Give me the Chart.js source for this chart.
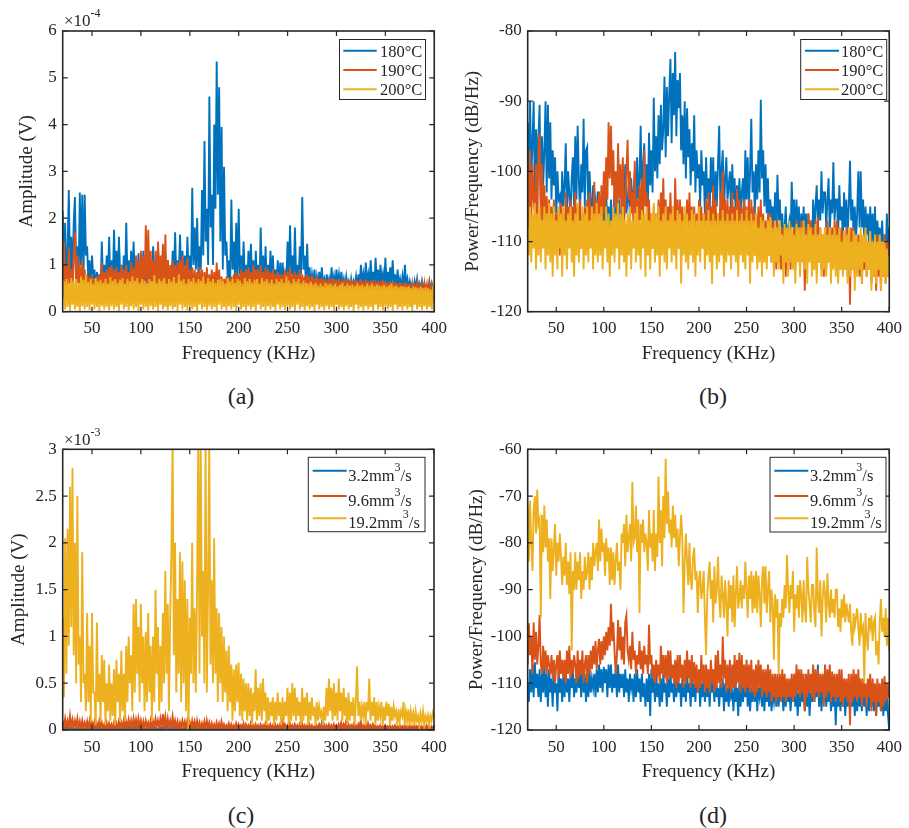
<!DOCTYPE html>
<html><head><meta charset="utf-8">
<script src="https://cdn.jsdelivr.net/npm/chart.js@4.4.1/dist/chart.umd.min.js"></script>
<style>
body{margin:0;background:#fff;}
#wrap{position:relative;width:909px;height:828px;background:#fff;overflow:hidden;font-family:"Liberation Serif","Times New Roman",serif;}
#wrap canvas{position:absolute;}
.sub{position:absolute;font-size:24px;color:#262626;transform:translate(-50%,-50%);line-height:1;white-space:nowrap;}
</style></head><body>
<div id="wrap">
<canvas id="ca" width="454" height="380" style="left:0;top:0"></canvas>
<canvas id="cb" width="455" height="380" style="left:454px;top:0"></canvas>
<canvas id="cc" width="454" height="390" style="left:0;top:410px"></canvas>
<canvas id="cd" width="455" height="390" style="left:454px;top:410px"></canvas>
<div class="sub" style="left:241px;top:396px">(a)</div>
<div class="sub" style="left:713px;top:396px">(b)</div>
<div class="sub" style="left:241px;top:815px">(c)</div>
<div class="sub" style="left:713px;top:815px">(d)</div>
</div>
<script>
// ---------------- DATA ----------------
const freqKHz = [
20,21.25,22.5,23.75,25,26.25,27.5,28.75,30,31.25,
32.5,33.75,35,36.25,37.5,38.75,40,41.25,42.5,43.75,
45,46.25,47.5,48.75,50,51.25,52.5,53.75,55,56.25,
57.5,58.75,60,61.25,62.5,63.75,65,66.25,67.5,68.75,
70,71.25,72.5,73.75,75,76.25,77.5,78.75,80,81.25,
82.5,83.75,85,86.25,87.5,88.75,90,91.25,92.5,93.75,
95,96.25,97.5,98.75,100,101.25,102.5,103.75,105,106.25,
107.5,108.75,110,111.25,112.5,113.75,115,116.25,117.5,118.75,
120,121.25,122.5,123.75,125,126.25,127.5,128.75,130,131.25,
132.5,133.75,135,136.25,137.5,138.75,140,141.25,142.5,143.75,
145,146.25,147.5,148.75,150,151.25,152.5,153.75,155,156.25,
157.5,158.75,160,161.25,162.5,163.75,165,166.25,167.5,168.75,
170,171.25,172.5,173.75,175,176.25,177.5,178.75,180,181.25,
182.5,183.75,185,186.25,187.5,188.75,190,191.25,192.5,193.75,
195,196.25,197.5,198.75,200,201.25,202.5,203.75,205,206.25,
207.5,208.75,210,211.25,212.5,213.75,215,216.25,217.5,218.75,
220,221.25,222.5,223.75,225,226.25,227.5,228.75,230,231.25,
232.5,233.75,235,236.25,237.5,238.75,240,241.25,242.5,243.75,
245,246.25,247.5,248.75,250,251.25,252.5,253.75,255,256.25,
257.5,258.75,260,261.25,262.5,263.75,265,266.25,267.5,268.75,
270,271.25,272.5,273.75,275,276.25,277.5,278.75,280,281.25,
282.5,283.75,285,286.25,287.5,288.75,290,291.25,292.5,293.75,
295,296.25,297.5,298.75,300,301.25,302.5,303.75,305,306.25,
307.5,308.75,310,311.25,312.5,313.75,315,316.25,317.5,318.75,
320,321.25,322.5,323.75,325,326.25,327.5,328.75,330,331.25,
332.5,333.75,335,336.25,337.5,338.75,340,341.25,342.5,343.75,
345,346.25,347.5,348.75,350,351.25,352.5,353.75,355,356.25,
357.5,358.75,360,361.25,362.5,363.75,365,366.25,367.5,368.75,
370,371.25,372.5,373.75,375,376.25,377.5,378.75,380,381.25,
382.5,383.75,385,386.25,387.5,388.75,390,391.25,392.5,393.75,
395,396.25,397.5,398.75,400];

const xTicks = [50,100,150,200,250,300,350,400];
const yTicksA = [0,1,2,3,4,5,6];
const yTicksB = [-120,-110,-100,-90,-80];
const yTicksC = [0,0.5,1,1.5,2,2.5,3];
const yTicksD = [-120,-110,-100,-90,-80,-70,-60];

const legendTemp = ['180°C','190°C','200°C'];
const legendRate = [['3.2mm','3','/s'],['9.6mm','3','/s'],['19.2mm','3','/s']];

// (a) amplitude, units of 1e-4 V
const ampA180 = [
2.15,0.7,1.9,0.5,1.3,2.6,0.8,1.6,0.6,1.9,
2.45,0.9,1.4,0.6,2.55,1.0,2.5,0.7,2.5,1.2,
1.4,0.6,1.1,0.5,1.2,0.7,0.9,0.4,0.85,0.5,
0.8,0.45,1.5,0.6,1.0,0.5,1.2,0.7,1.6,0.5,
1.1,0.6,1.75,0.7,1.3,0.5,1.6,0.8,1.0,0.5,
1.2,0.6,1.9,0.7,1.1,0.5,1.3,0.6,1.5,0.7,
1.0,0.5,1.25,0.6,0.9,0.7,1.3,0.5,1.1,0.6,
1.2,0.5,1.0,0.7,1.4,0.6,1.1,0.5,1.4,0.7,
1.0,0.6,1.35,0.5,1.2,0.7,1.1,0.5,0.9,0.6,
1.3,0.7,1.7,0.6,1.1,0.8,1.65,0.6,1.3,0.7,
1.2,0.6,1.6,0.8,1.2,0.7,2.65,1.0,1.8,0.9,
2.0,0.8,1.4,0.9,2.6,1.2,3.65,1.5,2.2,1.0,
4.6,1.8,2.5,1.0,4.0,2.2,5.35,2.5,4.8,1.5,
3.95,0.9,3.1,1.2,1.5,0.7,1.1,0.6,2.4,0.9,
1.5,0.7,1.9,0.6,2.2,0.8,1.2,0.6,1.5,0.7,
1.0,0.5,1.3,0.7,1.45,0.6,1.1,0.5,1.3,0.6,
1.0,0.5,1.8,0.7,1.2,0.6,1.4,0.5,1.0,0.6,
1.3,0.7,1.2,0.5,0.9,0.6,1.1,0.5,1.05,0.6,
1.05,0.5,0.8,0.6,1.5,0.7,1.85,0.8,1.2,0.6,
1.8,0.7,1.0,0.6,1.4,0.8,2.45,0.9,1.2,0.6,
1.45,0.6,0.95,0.5,0.8,0.6,0.9,0.5,0.75,0.55,
0.85,0.5,0.95,0.6,0.7,0.5,0.8,0.55,0.7,0.5,
0.95,0.55,0.75,0.5,0.9,0.6,0.8,0.5,0.85,0.55,
0.7,0.5,0.75,0.55,0.65,0.5,0.7,0.5,0.65,0.55,
0.75,0.5,0.8,0.55,1.0,0.6,0.8,0.5,1.05,0.6,
0.8,0.55,1.1,0.6,0.85,0.5,1.15,0.6,0.9,0.55,
1.0,0.6,0.8,0.5,1.15,0.6,0.85,0.55,0.95,0.6,
1.1,0.55,0.8,0.5,0.9,0.55,0.7,0.5,0.75,0.5,
1.0,0.55,0.7,0.5,0.65,0.5,0.6,0.45,0.65,0.5,
0.7,0.5,0.6,0.45,0.65,0.5,0.6,0.45,0.55,0.5,
0.65,0.45,0.6,0.5,0.55];
const ampA190 = [
0.6,1.5,0.4,1.0,0.5,1.35,0.6,0.9,0.4,1.2,
1.7,0.5,1.2,0.6,1.0,0.4,1.1,0.5,0.9,0.4,
0.8,0.3,0.75,0.4,0.8,0.3,0.7,0.4,0.75,0.3,
0.8,0.4,1.05,0.3,0.85,0.4,0.9,0.3,0.95,0.4,
1.0,0.3,0.9,0.4,0.95,0.3,0.85,0.4,1.0,0.3,
0.9,0.4,1.0,0.3,0.85,0.4,1.05,0.3,0.95,0.4,
1.2,0.4,1.1,0.5,1.3,0.4,1.2,0.5,1.85,0.6,
1.75,0.5,1.3,0.4,1.1,0.5,1.3,0.4,1.5,0.5,
1.2,0.4,1.45,0.5,1.65,0.4,1.1,0.5,1.0,0.4,
1.1,0.4,1.0,0.5,1.05,0.4,1.1,0.5,1.2,0.4,
1.0,0.4,1.15,0.5,0.9,0.4,0.95,0.3,0.9,0.4,
0.85,0.3,0.95,0.4,0.9,0.3,0.85,0.4,0.95,0.3,
0.8,0.4,0.9,0.3,0.85,0.4,1.05,0.3,0.9,0.4,
0.75,0.3,0.7,0.4,0.75,0.3,0.7,0.4,0.75,0.3,
0.8,0.4,0.85,0.3,0.8,0.4,0.9,0.3,0.85,0.4,
0.9,0.3,0.95,0.4,0.85,0.3,1.0,0.4,0.9,0.3,
0.9,0.4,1.0,0.3,0.85,0.4,0.95,0.3,0.9,0.4,
0.85,0.3,0.9,0.4,0.8,0.3,0.85,0.4,0.8,0.3,
0.8,0.4,0.9,0.3,0.85,0.4,0.95,0.3,0.8,0.4,
0.85,0.3,0.8,0.4,0.9,0.3,0.8,0.4,0.75,0.3,
0.8,0.4,0.75,0.3,0.78,0.4,0.72,0.3,0.75,0.35,
0.7,0.3,0.72,0.35,0.7,0.3,0.68,0.35,0.7,0.3,
0.72,0.35,0.7,0.3,0.68,0.35,0.7,0.3,0.66,0.35,
0.7,0.3,0.68,0.35,0.66,0.3,0.7,0.35,0.65,0.3,
0.68,0.35,0.66,0.3,0.7,0.35,0.65,0.3,0.68,0.35,
0.66,0.3,0.65,0.35,0.68,0.3,0.64,0.35,0.66,0.3,
0.65,0.35,0.68,0.3,0.64,0.35,0.62,0.3,0.65,0.35,
0.62,0.3,0.64,0.35,0.6,0.3,0.62,0.35,0.6,0.3,
0.62,0.35,0.6,0.3,0.6,0.35,0.58,0.3,0.6,0.35,
0.58,0.3,0.6,0.35,0.57,0.3,0.58,0.35,0.56,0.3,
0.58,0.35,0.55,0.3,0.55];
const ampA200 = [
0.3,0.65,0.05,0.7,0.1,0.6,0.02,0.72,0.15,0.66,
0.05,0.7,0.1,0.62,0.02,0.75,0.12,0.68,0.05,0.8,
0.1,0.64,0.03,0.7,0.15,0.6,0.05,0.72,0.1,0.65,
0.02,0.68,0.12,0.62,0.05,0.7,0.1,0.6,0.03,0.74,
0.12,0.66,0.05,0.7,0.1,0.62,0.02,0.68,0.15,0.72,
0.05,0.6,0.1,0.7,0.03,0.65,0.12,0.75,0.05,0.66,
0.1,0.72,0.02,0.62,0.15,0.7,0.05,0.66,0.1,0.6,
0.03,0.7,0.12,0.65,0.05,0.78,0.1,0.62,0.02,0.7,
0.15,0.66,0.05,0.72,0.1,0.6,0.03,0.7,0.12,0.65,
0.05,0.74,0.1,0.62,0.02,0.8,0.15,0.66,0.05,0.7,
0.1,0.6,0.03,0.7,0.12,0.65,0.05,0.72,0.1,0.62,
0.02,0.7,0.15,0.66,0.05,0.75,0.1,0.6,0.03,0.72,
0.12,0.65,0.05,0.7,0.1,0.62,0.02,0.68,0.15,0.7,
0.05,0.66,0.1,0.6,0.03,0.72,0.12,0.65,0.05,0.7,
0.1,0.62,0.02,0.7,0.15,0.66,0.05,0.6,0.1,0.72,
0.03,0.65,0.12,0.7,0.05,0.62,0.1,0.68,0.02,0.7,
0.15,0.6,0.05,0.72,0.1,0.65,0.03,0.7,0.12,0.62,
0.05,0.68,0.1,0.6,0.02,0.7,0.15,0.64,0.05,0.7,
0.1,0.62,0.03,0.75,0.12,0.66,0.05,0.6,0.1,0.7,
0.02,0.64,0.15,0.7,0.05,0.6,0.1,0.66,0.03,0.62,
0.12,0.6,0.05,0.64,0.1,0.58,0.02,0.62,0.15,0.56,
0.05,0.6,0.1,0.55,0.03,0.62,0.12,0.58,0.05,0.6,
0.1,0.56,0.02,0.6,0.15,0.55,0.05,0.58,0.1,0.62,
0.03,0.55,0.12,0.6,0.05,0.56,0.1,0.58,0.02,0.55,
0.15,0.6,0.05,0.56,0.1,0.58,0.03,0.55,0.12,0.6,
0.05,0.56,0.1,0.6,0.02,0.55,0.15,0.58,0.05,0.56,
0.1,0.55,0.03,0.58,0.12,0.54,0.05,0.56,0.1,0.6,
0.02,0.54,0.15,0.56,0.05,0.52,0.1,0.55,0.03,0.54,
0.12,0.52,0.05,0.55,0.1,0.5,0.02,0.54,0.15,0.52,
0.05,0.5,0.1,0.53,0.03,0.5,0.12,0.52,0.05,0.5,
0.1,0.48,0.05,0.5,0.45];

// (b) power/frequency, dB/Hz
const psdB180 = [
-93,-104,-90,-101,-96,-90,-103,-94,-100,-95,
-90.5,-104,-95,-102,-97,-90,-103,-90.5,-101,-93,
-104,-97,-102,-98,-106,-100,-104,-103.5,-107,-100,
-105,-102,-96,-106,-100,-103,-107,-101,-98,-105,
-95,-104,-93.5,-101,-106,-99,-103,-92.5,-105,-97,
-96.5,-106,-100,-104,-107,-102,-105,-104,-108,-103,
-103,-108,-105,-104.5,-109,-106,-103,-108,-105,-110,
-104,-109,-106,-103,-110,-105,-108,-104,-109,-106,
-103,-107,-99,-106,-104,-102,-107,-101,-105,-103,
-100,-106,-98,-104,-101,-93.5,-105,-99,-96,-104,
-99,-105,-94.5,-102,-97,-103,-89.5,-100,-95,-101,
-92,-99,-90.5,-97,-94,-86.5,-98,-88,-95,-89,
-84,-96,-86,-92,-83,-95,-87,-91,-86,-97,
-92,-99,-90,-101,-91,-98,-94,-102,-96,-100,
-92,-103,-97,-101,-99,-105,-97,-102,-100,-106,
-98,-104,-101,-106,-98,-103,-98,-107,-100,-105,
-99,-93.5,-104,-100,-97,-106,-101,-98,-104,-102,
-100,-106,-99,-104,-101,-107,-102,-105,-101,-106,
-103,-101,-107,-97,-104,-98,-105,-100,-92.5,-103,
-100,-106,-99,-104,-97,-103,-89.8,-101,-97,-105,
-99,-106,-101,-108,-104,-107,-105,-109,-103,-108,
-100.5,-107,-104,-109,-106,-110,-108,-105,-111,-108,
-107,-110,-101.5,-108,-104,-110,-104,-109,-105,-111,
-106,-110,-105,-109,-106,-111,-106,-110,-107,-112,
-104,-109,-105,-102,-108,-104,-107,-100,-106,-103,
-103,-108,-104,-101,-109,-104,-106,-98.7,-107,-104,
-104,-109,-102,-107,-105,-110,-103,-108,-104,-109,
-105,-98.5,-107,-104,-109,-105,-110,-106,-100,-108,
-100,-108,-104,-110,-105,-109,-106,-111,-105,-110,
-106,-111,-105,-112,-107,-110,-108,-112,-107,-111,
-109,-113,-106,-111,-108];
const psdB190 = [
-100,-108,-97,-107,-99,-104,-106,-99,-109,-97,
-94.5,-107,-99,-109,-102,-108,-103.5,-110,-104,-109,
-105,-110,-104,-111,-106,-109,-105,-112,-104.5,-110,
-106,-111,-103,-109,-105,-110,-104,-111,-105,-109,
-103,-110,-105,-109,-104,-111,-106,-110,-105,-109,
-104,-110,-103,-108,-105,-110,-101.5,-109,-104,-108,
-103,-109,-102,-107,-100,-106,-98,-104,-93,-101,
-93.5,-102,-97,-105,-100,-106,-96,-104,-99,-106,
-98,-107,-105,-100,-95.5,-104,-100,-106,-103,-108,
-98.5,-106,-104,-109,-102,-107,-101,-108,-97,-105,
-103,-109,-104,-110,-106,-111,-105,-109,-106,-110,
-104,-110,-103,-108,-101,-109,-104,-110,-105,-109,
-103,-109,-105,-110,-101,-108,-104,-111,-104,-110,
-105,-111,-106,-110,-104,-109,-103,-110,-105,-111,
-105,-110,-106,-111,-104,-109,-105,-111,-106,-110,
-104,-109,-103,-110,-105,-108,-102,-110,-104,-111,
-106,-111,-103,-109,-100,-108,-104,-110,-104,-111,
-105,-110,-103,-109,-105,-111,-102.5,-109,-104,-111,
-105,-112,-104,-110,-105,-111,-104,-112,-104,-110,
-105,-112,-106,-111,-105,-112,-104,-111,-106,-112,
-107,-113,-106,-112,-106,-113,-107,-112,-108,-114,
-107,-113,-107.5,-114,-108,-113,-109,-115,-108,-113,
-108,-114,-109,-113,-108,-114,-107,-112,-108,-114,
-107,-112,-109,-117,-108,-113,-106,-112,-107,-113,
-108,-114,-107,-113,-106.5,-113,-108,-114,-109,-115,
-108,-114,-107,-113,-108,-114,-108,-113,-107,-112,
-107,-115,-108,-114,-108,-113,-109,-114,-108,-115,
-109,-119,-108,-114,-108,-115,-110,-114,-109,-115,
-109,-116,-110,-114,-109,-115,-110,-114,-109,-116,
-110,-115,-110,-117,-109,-115,-110,-117,-110,-115,
-109,-116,-110,-115,-110];
const psdB200 = [
-108,-112,-105,-113,-106,-111,-104.5,-114,-106,-112,
-105,-113,-107,-111,-105,-114,-106,-112,-104.5,-113,
-106,-115,-105,-112,-107,-114,-105,-111,-106,-115,
-105,-112,-107,-114,-106,-111,-105,-113,-107,-115,
-106,-112,-104.5,-113,-107,-111,-105,-114,-106,-112,
-105,-113,-107,-111,-105,-114,-106,-112,-104.5,-113,
-106,-112,-105,-114,-107,-111,-105,-113,-106,-115,
-107,-112,-105,-113,-106,-111,-104.5,-114,-106,-112,
-105,-113,-107,-115,-106,-112,-105,-114,-107,-111,
-106,-113,-105,-112,-107,-114,-105.5,-111,-106,-115,
-105,-112,-107,-114,-106,-111,-104.5,-113,-106,-112,
-105,-115,-107,-112,-106,-113,-105,-114,-107,-111,
-106,-113,-105,-112,-107,-114,-105.5,-111,-106,-116,
-107,-112,-105,-113,-106,-114,-107,-112,-105.5,-113,
-106,-115,-107,-112,-105,-113,-107,-111,-106,-114,
-107,-112,-105.5,-113,-107,-116,-106,-112,-107,-114,
-106,-113,-107,-112,-105.5,-115,-107,-113,-106,-112,
-107,-114,-106,-112,-107,-113,-105.5,-115,-107,-112,
-106,-113,-107,-114,-105.5,-112,-107,-116,-106,-113,
-107,-112,-106,-114,-108,-113,-106.5,-115,-107,-113,
-108,-114,-107,-112,-106.5,-113,-108,-115,-107,-113,
-108,-114,-107,-112,-109,-116,-107.5,-113,-108,-115,
-107,-113,-108,-114,-109,-116,-107.5,-113,-108,-115,
-108,-113,-107,-114,-109,-116,-107.5,-113,-108,-115,
-109,-114,-107.5,-116,-109,-113,-108,-115,-109,-114,
-108,-115,-109,-113,-108,-116,-109,-114,-108,-115,
-109,-116,-108,-114,-110,-115,-108.5,-114,-109,-116,
-108,-115,-110,-114,-108.5,-117,-109,-115,-110,-114,
-108,-116,-109,-113,-108,-115,-110,-114,-108.5,-117,
-110,-115,-109,-116,-110,-114,-109,-117,-110,-115,
-110,-116,-111,-115,-112];

// (c) amplitude, units of 1e-3 V
const ampC32 = [
0.02,0.005,0.03,0.01,0.02,0.005,0.025,0.01,0.02,0.005,
0.015,0.005,0.02,0.01,0.015,0.005,0.02,0.01,0.015,0.005,
0.02,0.01,0.015,0.005,0.02,0.01,0.025,0.005,0.03,0.01,
0.02,0.005,0.015,0.01,0.02,0.005,0.015,0.01,0.02,0.005,
0.015,0.005,0.02,0.01,0.015,0.005,0.02,0.01,0.015,0.005,
0.02,0.01,0.025,0.005,0.03,0.01,0.02,0.005,0.025,0.01,
0.035,0.01,0.04,0.015,0.03,0.005,0.02,0.01,0.015,0.005,
0.02,0.01,0.03,0.005,0.035,0.01,0.02,0.005,0.015,0.01,
0.02,0.005,0.03,0.01,0.035,0.01,0.04,0.015,0.02,0.005,
0.03,0.01,0.035,0.005,0.04,0.01,0.02,0.005,0.015,0.01,
0.02,0.005,0.015,0.01,0.02,0.005,0.025,0.01,0.02,0.005,
0.015,0.005,0.02,0.01,0.015,0.005,0.02,0.01,0.015,0.005,
0.02,0.01,0.015,0.005,0.02,0.01,0.015,0.005,0.02,0.01,
0.015,0.005,0.02,0.01,0.015,0.005,0.02,0.01,0.015,0.005,
0.02,0.01,0.015,0.005,0.02,0.01,0.015,0.005,0.02,0.01,
0.015,0.005,0.02,0.01,0.015,0.005,0.02,0.01,0.015,0.005,
0.02,0.01,0.015,0.005,0.02,0.01,0.015,0.005,0.02,0.01,
0.015,0.005,0.02,0.01,0.015,0.005,0.02,0.01,0.015,0.005,
0.02,0.01,0.015,0.005,0.02,0.01,0.015,0.005,0.02,0.01,
0.015,0.005,0.02,0.01,0.015,0.005,0.02,0.01,0.015,0.005,
0.02,0.01,0.015,0.005,0.02,0.01,0.015,0.005,0.02,0.01,
0.015,0.005,0.07,0.01,0.02,0.005,0.015,0.01,0.02,0.005,
0.02,0.01,0.015,0.005,0.02,0.01,0.015,0.005,0.02,0.01,
0.015,0.005,0.02,0.01,0.015,0.005,0.02,0.01,0.015,0.005,
0.02,0.01,0.015,0.005,0.08,0.01,0.015,0.005,0.02,0.01,
0.015,0.005,0.02,0.01,0.015,0.005,0.02,0.01,0.015,0.005,
0.02,0.01,0.015,0.005,0.02,0.01,0.015,0.005,0.02,0.01,
0.015,0.005,0.02,0.01,0.015,0.005,0.02,0.01,0.015,0.005,
0.02,0.01,0.015,0.005,0.02,0.01,0.015,0.005,0.02,0.01,
0.015,0.005,0.02,0.01,0.015,0.005,0.02,0.01,0.015,0.005,
0.01,0.005,0.01,0.005,0.01];
const ampC96 = [
0.1,0.02,0.12,0.03,0.1,0.02,0.15,0.04,0.11,0.02,
0.1,0.03,0.12,0.02,0.09,0.01,0.1,0.03,0.08,0.02,
0.09,0.01,0.1,0.02,0.08,0.03,0.09,0.01,0.07,0.02,
0.1,0.03,0.08,0.01,0.06,0.02,0.08,0.01,0.07,0.02,
0.06,0.01,0.08,0.02,0.07,0.01,0.09,0.03,0.08,0.02,
0.1,0.02,0.09,0.03,0.11,0.02,0.1,0.01,0.12,0.03,
0.11,0.02,0.12,0.03,0.1,0.01,0.09,0.02,0.1,0.03,
0.08,0.02,0.1,0.01,0.09,0.03,0.12,0.04,0.1,0.02,
0.12,0.04,0.17,0.03,0.14,0.02,0.12,0.03,0.1,0.02,
0.14,0.03,0.1,0.02,0.09,0.01,0.08,0.02,0.1,0.03,
0.09,0.02,0.1,0.01,0.08,0.02,0.1,0.03,0.09,0.01,
0.1,0.02,0.08,0.01,0.07,0.02,0.09,0.01,0.1,0.02,
0.08,0.01,0.07,0.02,0.06,0.01,0.08,0.02,0.07,0.01,
0.09,0.02,0.06,0.01,0.05,0.02,0.07,0.01,0.06,0.02,
0.05,0.01,0.07,0.02,0.06,0.01,0.05,0.02,0.07,0.01,
0.06,0.02,0.05,0.01,0.07,0.02,0.05,0.01,0.06,0.02,
0.05,0.01,0.06,0.02,0.05,0.01,0.07,0.02,0.05,0.01,
0.06,0.02,0.05,0.01,0.06,0.02,0.05,0.01,0.06,0.02,
0.1,0.01,0.06,0.02,0.05,0.01,0.07,0.02,0.05,0.01,
0.06,0.02,0.05,0.01,0.06,0.02,0.07,0.01,0.05,0.02,
0.05,0.01,0.06,0.02,0.05,0.01,0.04,0.02,0.05,0.01,
0.06,0.02,0.05,0.01,0.06,0.02,0.05,0.01,0.06,0.02,
0.05,0.01,0.06,0.02,0.05,0.01,0.06,0.02,0.08,0.01,
0.06,0.02,0.09,0.01,0.06,0.02,0.05,0.01,0.06,0.02,
0.05,0.01,0.06,0.02,0.09,0.01,0.05,0.02,0.06,0.01,
0.07,0.02,0.05,0.01,0.06,0.02,0.05,0.01,0.04,0.02,
0.05,0.01,0.04,0.02,0.05,0.01,0.04,0.02,0.05,0.01,
0.04,0.02,0.05,0.01,0.04,0.02,0.05,0.01,0.04,0.02,
0.05,0.01,0.04,0.02,0.05,0.01,0.04,0.02,0.05,0.01,
0.04,0.02,0.05,0.01,0.04,0.02,0.04,0.01,0.05,0.02,
0.04,0.01,0.04,0.02,0.04];
const ampC192 = [
1.2,0.35,2.05,0.6,2.15,0.9,2.6,1.1,2.8,0.8,
2.0,0.5,2.5,0.7,1.0,0.3,1.9,0.5,0.6,0.2,
1.25,0.3,0.9,0.1,1.25,0.4,0.4,0.05,1.15,0.3,
0.6,0.1,0.8,0.3,0.75,0.05,0.5,0.2,0.7,0.1,
0.5,0.15,0.65,0.05,0.75,0.3,0.6,0.1,0.85,0.2,
0.6,0.1,0.9,0.3,1.0,0.5,0.8,0.2,1.35,0.4,
1.4,0.6,1.1,0.3,1.35,0.5,1.0,0.2,1.05,0.3,
1.25,0.4,0.9,0.1,1.0,0.3,1.5,0.6,1.1,0.2,
0.9,0.3,1.25,0.5,1.7,0.6,1.35,0.2,1.2,1.9,
3.1,0.8,2.0,0.4,1.4,0.6,1.9,0.3,1.8,0.5,
1.6,0.2,1.4,0.0,1.2,0.6,2.0,0.5,1.3,0.4,
1.5,3.1,0.6,3.1,1.0,1.7,0.5,3.1,0.4,1.5,
3.1,0.7,1.6,0.5,2.05,0.6,1.3,0.3,1.25,0.5,
1.1,0.3,1.0,0.4,0.85,0.2,0.9,0.3,0.7,0.1,
0.65,0.2,0.7,0.3,0.72,0.15,0.6,0.1,0.55,0.2,
0.5,0.1,0.5,0.15,0.45,0.05,0.4,0.2,0.65,0.1,
0.45,0.15,0.5,0.1,0.55,0.2,0.4,0.05,0.35,0.1,
0.3,0.15,0.35,0.05,0.3,0.1,0.4,0.15,0.3,0.05,
0.35,0.1,0.3,0.15,0.45,0.05,0.4,0.1,0.5,0.15,
0.45,0.1,0.35,0.15,0.3,0.05,0.45,0.1,0.35,0.15,
0.4,0.05,0.3,0.1,0.35,0.15,0.25,0.05,0.3,0.1,
0.25,0.15,0.2,0.05,0.25,0.1,0.45,0.15,0.55,0.2,
0.45,0.1,0.5,0.15,0.4,0.1,0.55,0.2,0.4,0.1,
0.45,0.15,0.35,0.05,0.4,0.1,0.3,0.15,0.35,0.05,
0.3,0.68,0.15,0.3,0.1,0.25,0.15,0.3,0.05,0.3,
0.2,0.55,0.1,0.3,0.15,0.35,0.05,0.3,0.1,0.25,
0.15,0.3,0.05,0.25,0.1,0.3,0.15,0.28,0.05,0.25,
0.1,0.25,0.15,0.2,0.05,0.22,0.1,0.2,0.15,0.3,
0.05,0.2,0.1,0.22,0.05,0.2,0.1,0.18,0.05,0.2,
0.1,0.15,0.05,0.18,0.1,0.2,0.05,0.15,0.1,0.16,
0.05,0.15,0.1,0.18,0.12];

// (d) power/frequency, dB/Hz
const psdD32 = [
-110,-114,-107,-112,-106,-113,-105.5,-111,-108,-113,
-107,-114,-108,-112,-106,-113,-108,-115,-107,-112,
-109,-115,-108,-112,-110,-116,-107,-112,-109,-114,
-108,-113,-107,-112,-109,-114,-108,-111,-107,-113,
-109,-112,-107,-111,-108,-113,-107,-112,-108,-114,
-108,-113,-107,-112,-109,-111,-108,-113,-107,-112,
-106,-111,-107,-112,-106.5,-110,-107,-113,-106,-111,
-106,-112,-108,-111,-107,-113,-106,-112,-108,-111,
-108,-113,-107,-112,-109,-114,-108,-111,-109,-114,
-108,-113,-107,-112,-109,-114,-108,-113,-110,-115,
-109,-114,-108,-117,-107,-112,-109,-114,-108,-113,
-110,-115,-109,-114,-108,-112,-110,-115,-109,-113,
-108,-112,-110,-114,-109,-113,-108,-112,-110,-115,
-109,-113,-110,-114,-108,-112,-110,-115,-109,-113,
-110,-114,-108,-112,-109,-115,-110,-113,-109,-114,
-110,-113,-109,-115,-108,-112,-110,-114,-109,-113,
-111,-115,-110,-113,-109,-116,-110,-114,-111,-115,
-110,-113,-112,-116,-110,-114,-111,-117,-110,-115,
-110,-114,-111,-113,-109,-115,-110,-116,-111,-114,
-110,-114,-109,-116,-111,-113,-110,-115,-111,-116,
-110,-114,-111,-115,-110,-116,-112,-114,-111,-115,
-111,-115,-110,-114,-112,-116,-111,-115,-110,-114,
-111,-116,-112,-114,-110,-115,-111,-117,-112,-115,
-110,-114,-112,-116,-111,-115,-110,-117,-112,-114,
-108,-114,-111,-113,-106,-115,-110,-116,-111,-114,
-110,-115,-111,-114,-110,-116,-112,-115,-111,-119,
-111,-115,-112,-116,-110,-115,-111,-117,-112,-115,
-111,-116,-112,-115,-110,-117,-112,-116,-111,-115,
-112,-116,-111,-115,-112,-117,-111,-116,-112,-115,
-111,-116,-112,-117,-111,-115,-112,-116,-111,-117,
-112,-116,-113,-117,-120];
const psdD96 = [
-106,-97.2,-104,-100,-108,-97,-105,-99,-106,-102,
-95.4,-106,-108,-102,-107,-103,-108,-104,-106,-108,
-104,-109,-105,-110,-106,-104,-109,-103,-108,-105,
-109,-105,-110,-103,-108,-102,-109,-105,-108,-104,
-106,-110,-103,-109,-105,-108,-103,-110,-106,-104,
-110,-104,-108,-103,-107,-102,-106,-101,-107,-103,
-100.5,-106,-101,-105,-100,-104,-99,-103,-98,-102,
-93,-101,-97,-103,-108,-104,-96.5,-103,-98,-105,
-100,-106,-97,-95.5,-103,-105,-102,-107,-99,-105,
-103,-108,-104,-106,-101,-107,-103,-108,-102,-106,
-104,-108,-97.5,-106,-104,-109,-106,-110,-105,-108,
-106,-110,-102,-108,-104,-109,-104,-110,-103,-109,
-103,-109,-106,-110,-105,-111,-104,-110,-104,-109,
-106,-111,-105,-110,-103,-109,-105,-111,-104,-110,
-105.5,-111,-106,-112,-107,-111,-104,-110,-106,-112,
-106,-111,-107,-112,-105,-110,-107,-112,-104,-111,
-103,-110,-106,-111,-100,-109,-105,-112,-106,-111,
-105,-112,-106,-111,-104,-111,-105,-110,-103.5,-112,
-104,-111,-106,-112,-105,-111,-106,-112,-105,-112,
-107,-113,-106,-112,-105,-111,-106,-113,-107,-112,
-107,-113,-106,-112,-107,-114,-108,-113,-108,-114,
-108,-113,-108,-114,-107,-113,-108,-114,-109,-113,
-109,-113,-108,-114,-108,-113,-106,-112,-107,-113,
-107,-112,-108,-116,-108,-113,-107,-112,-108,-113,
-106,-114,-107,-112,-107,-113,-108,-112,-108,-115,
-106,-113,-107,-112,-106,-114,-107.5,-113,-108,-114,
-108,-113,-107,-114,-107,-115,-109,-113,-109,-114,
-108,-119,-108,-114,-107,-113,-108,-114,-107,-113,
-109,-115,-109,-113,-110,-115,-109,-113,-108,-116,
-109,-114,-110,-117,-109,-114,-110,-116,-109,-115,
-108.5,-114,-110,-113,-110];
const psdD192 = [
-72,-84,-71,-80,-86,-73,-70,-78,-68.6,-76,
-75,-96,-74,-82,-72,-81,-75,-84,-79,-92,
-79,-86,-81,-76,-87,-80,-84,-78,-83,-89,
-83,-87,-80,-89,-84,-91,-82,-103,-86,-90,
-82,-90,-84,-88,-82,-92,-86,-90,-83,-88,
-86,-82,-90,-83,-88,-80,-85,-82,-80,-86,
-75,-84,-77,-82,-80,-87,-79,-84,-81,-89,
-81,-88,-82,-89,-84,-80,-86,-84,-90,-78,
-80,-76,-85,-74,-82,-79,-76,-84,-67,-80,
-79,-72,-82,-75,-95,-76,-80,-75,-82,-78,
-80,-86,-73,-81,-78,-84,-73,-86,-78,-83,
-65.8,-80,-73,-85,-70,-79,-62,-76,-69,-78,
-75,-81,-72,-79,-74,-81,-77,-85,-79,-74,
-79,-95,-84,-78,-84,-89,-80,-88,-90,-83,
-81,-88,-86,-95,-88,-86,-92,-90,-86,-96,
-104,-91,-87,-84,-92,-88,-97,-85,-93,-90,
-83,-92,-96,-87,-91,-96,-88,-93,-100,-88,
-94,-89,-97,-87,-98,-91,-85,-94,-92,-88,
-94,-89,-92,-84,-90,-96,-87,-92,-86,-95,
-87,-94,-86,-95,-87,-91,-98,-88,-85,-93,
-85,-95,-90,-86,-97,-90,-93,-105,-91,-96,
-92,-108,-95,-98,-92,-96,-89,-94,-82.6,-90,
-95,-89,-92,-86,-99,-91,-94,-89,-96,-88,
-91,-97,-88,-94,-97,-83,-90,-93,-97,-89,
-89,-95,-98,-81,-92,-95,-88,-100,-92,-88,
-91,-97,-86.5,-93,-96,-90,-95,-92,-96,-90,
-90,-98,-94,-99,-92,-96,-91,-97,-93,-95,
-97,-93,-99,-102,-95,-98,-96,-94,-98,-102,
-95,-99,-98,-110,-95,-100,-103,-96,-98,-95.5,
-101,-97,-96,-104,-101,-106,-97,-92,-99,-96,
-100,-94,-102,-96,-103];

// ---------------- RENDERING ----------------
const FONT = '"Liberation Serif","Times New Roman",serif';
const INK = '#262626';
const C_BLUE = '#0072BD', C_ORANGE = '#D95319', C_YELLOW = '#EDB120';

const framePlugin = {
  id: 'frame',
  afterDraw(chart, args, o) {
    const ctx = chart.ctx, a = chart.chartArea, xs = chart.scales.x, ys = chart.scales.y;
    ctx.save();
    ctx.strokeStyle = INK;
    ctx.lineWidth = 1.2;
    ctx.beginPath();
    xs.ticks.forEach(t => {
      const p = xs.getPixelForValue(t.value);
      ctx.moveTo(p, a.bottom); ctx.lineTo(p, a.bottom - 5);
      ctx.moveTo(p, a.top); ctx.lineTo(p, a.top + 5);
    });
    ys.ticks.forEach(t => {
      const p = ys.getPixelForValue(t.value);
      ctx.moveTo(a.left, p); ctx.lineTo(a.left + 5, p);
      ctx.moveTo(a.right, p); ctx.lineTo(a.right - 5, p);
    });
    ctx.stroke();
    ctx.lineWidth = 1.6;
    ctx.strokeRect(a.left, a.top, a.right - a.left, a.bottom - a.top);

    ctx.fillStyle = INK;
    ctx.textAlign = 'left';
    ctx.textBaseline = 'alphabetic';
    if (o.exp) {
      ctx.font = '17px ' + FONT;
      ctx.fillText('\u00d710', o.exp.x, o.exp.y);
      const w = ctx.measureText('\u00d710').width;
      ctx.font = '12px ' + FONT;
      ctx.fillText(o.exp.p, o.exp.x + w, o.exp.y - 9);
    }
    const L = o.legend;
    ctx.fillStyle = '#fff';
    ctx.fillRect(L.x, L.y, L.w, L.h);
    ctx.lineWidth = 1;
    ctx.strokeStyle = INK;
    ctx.strokeRect(L.x, L.y, L.w, L.h);
    chart.data.datasets.forEach((ds, i) => {
      const y = L.rows[i];
      ctx.strokeStyle = ds.borderColor;
      ctx.lineWidth = 2;
      ctx.beginPath(); ctx.moveTo(L.lx0, y); ctx.lineTo(L.lx1, y); ctx.stroke();
      ctx.fillStyle = INK;
      const parts = L.labels[i];
      let x = L.tx;
      const by = y + L.dy;
      if (typeof parts === 'string') {
        ctx.font = '16.5px ' + FONT;
        ctx.fillText(parts, x, by);
      } else {
        ctx.font = '16.5px ' + FONT;
        ctx.fillText(parts[0], x, by); x += ctx.measureText(parts[0]).width;
        ctx.font = '12px ' + FONT;
        ctx.fillText(parts[1], x, by - 10); x += ctx.measureText(parts[1]).width;
        ctx.font = '16.5px ' + FONT;
        ctx.fillText(parts[2], x, by);
      }
    });
    ctx.restore();
  }
};

function pts(arr) { return freqKHz.map((f, i) => ({ x: f, y: arr[i] })); }

function makeChart(id, cfg) {
  const ds = (label, arr, color, order) => ({
    label, data: pts(arr), borderColor: color, backgroundColor: color,
    borderWidth: 1.9, pointRadius: 0, tension: 0, order, fill: false
  });
  new Chart(document.getElementById(id), {
    type: 'line',
    data: {
      datasets: [
        ds(cfg.names[0], cfg.series[0], C_BLUE, 3),
        ds(cfg.names[1], cfg.series[1], C_ORANGE, 2),
        ds(cfg.names[2], cfg.series[2], C_YELLOW, 1)
      ]
    },
    options: {
      responsive: false, animation: false, devicePixelRatio: 1,
      layout: { padding: { top: cfg.padTop, right: cfg.padRight, left: 0, bottom: 0 } },
      plugins: { legend: { display: false }, tooltip: { enabled: false },
        frame: { legend: cfg.legend, exp: cfg.exp } },
      scales: {
        x: {
          type: 'linear', min: 20, max: 400,
          afterBuildTicks: s => { s.ticks = xTicks.map(v => ({ value: v })); },
          afterFit: s => { s.height = cfg.xH; },
          grid: { display: false, drawTicks: false }, border: { display: false },
          ticks: { padding: 7, color: INK, font: { family: FONT, size: 17 }, maxRotation: 0, autoSkip: false,
            callback: v => String(v) },
          title: { display: true, text: 'Frequency (KHz)', color: INK, font: { family: FONT, size: 19 },
            padding: { top: 0, bottom: cfg.xTitlePad } }
        },
        y: {
          type: 'linear', min: cfg.yTicks[0], max: cfg.yTicks[cfg.yTicks.length - 1],
          afterBuildTicks: s => { s.ticks = cfg.yTicks.map(v => ({ value: v })); },
          afterFit: s => { s.width = cfg.yW; },
          grid: { display: false, drawTicks: false }, border: { display: false },
          ticks: { padding: 6, color: INK, font: { family: FONT, size: 17 }, autoSkip: false,
            callback: v => String(v) },
          title: { display: true, text: cfg.yTitle, color: INK, font: { family: FONT, size: 19 },
            padding: { top: cfg.yTitlePad, bottom: 0 } }
        }
      }
    },
    plugins: [framePlugin]
  });
}

makeChart('ca', {
  names: legendTemp, series: [ampA180, ampA190, ampA200], yTicks: yTicksA,
  padTop: 31, padRight: 19.5, xH: 68.3, yW: 62.7, xTitlePad: 15, yTitlePad: 16,
  yTitle: 'Amplitude (V)',
  exp: { x: 64, y: 26, p: '-4' },
  legend: { x: 339.5, y: 39.5, w: 86, h: 60, rows: [50.7, 70, 89.3], lx0: 343.3, lx1: 376.7, tx: 380, dy: 6, labels: legendTemp }
});
makeChart('cb', {
  names: legendTemp, series: [psdB180, psdB190, psdB200], yTicks: yTicksB,
  padTop: 31, padRight: 13.7, xH: 68.3, yW: 73.7, xTitlePad: 15, yTitlePad: 8,
  yTitle: 'Power/Frequency (dB/Hz)',
  exp: null,
  legend: { x: 346.7, y: 39.5, w: 86, h: 60, rows: [50.7, 70, 89.3], lx0: 351, lx1: 385, tx: 387, dy: 6, labels: legendTemp }
});
makeChart('cc', {
  names: ['3.2mm3/s', '9.6mm3/s', '19.2mm3/s'], series: [ampC32, ampC96, ampC192], yTicks: yTicksC,
  padTop: 39.3, padRight: 20, xH: 70, yW: 62.7, xTitlePad: 16.6, yTitlePad: 7.6,
  yTitle: 'Amplitude (V)',
  exp: { x: 64, y: 35, p: '-3' },
  legend: { x: 308.3, y: 47.3, w: 116.7, h: 74.4, rows: [60.7, 86, 108.3], lx0: 312.7, lx1: 346.7, tx: 348.3, dy: 10, labels: legendRate }
});
makeChart('cd', {
  names: ['3.2mm3/s', '9.6mm3/s', '19.2mm3/s'], series: [psdD32, psdD96, psdD192], yTicks: yTicksD,
  padTop: 39.3, padRight: 13.7, xH: 70, yW: 73.7, xTitlePad: 16.6, yTitlePad: 11.3,
  yTitle: 'Power/Frequency (dB/Hz)',
  exp: null,
  legend: { x: 316, y: 47.3, w: 116, h: 74.7, rows: [60.7, 86, 108.3], lx0: 320.3, lx1: 354.3, tx: 356, dy: 10, labels: legendRate }
});
</script>
</body></html>
